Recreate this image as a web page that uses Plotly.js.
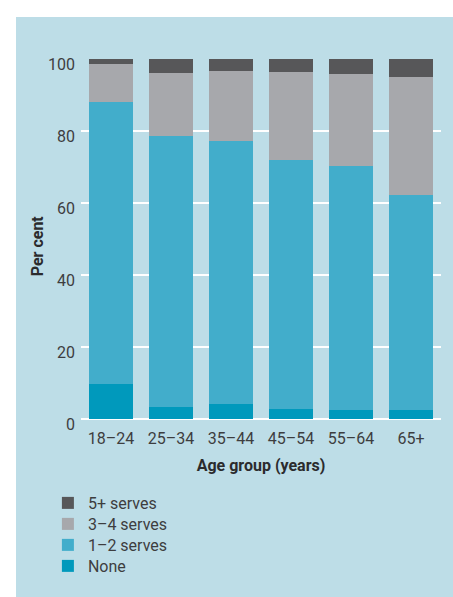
<!DOCTYPE html>
<html>
<head>
<meta charset="utf-8">
<script src="https://cdn.plot.ly/plotly-3.0.1.min.js"></script>
<style>
  html, body { margin: 0; padding: 0; background: #ffffff; }
  #chart { position: absolute; left: 16px; top: 17px; width: 437px; height: 580px; }
</style>
</head>
<body>
<div id="chart"></div>
<script>
// Age groups along the x axis
const ageGroups = ['18–24', '25–34', '35–44', '45–54', '55–64', '65+'];

// Share of each age group (per cent) by serves per day
const noneServes = [9.7, 3.3, 4.2, 2.7, 2.4, 2.4];
const oneToTwo   = [78.4, 75.3, 73.0, 69.3, 67.9, 59.8];
const threeToFour = [10.6, 17.6, 19.5, 24.4, 25.6, 32.8];
const fivePlus   = [1.3, 3.8, 3.3, 3.6, 4.1, 5.0];

const yTicks = [0, 20, 40, 60, 80, 100];

const textColor = '#3d3d3f';
const titleColor = '#2b2b2d';
const fontFamily = 'Roboto, "Liberation Sans", sans-serif';

// One legend per series so the key rows sit on an even 21px pitch
const series = [
  { name: 'None',       y: noneServes,  color: '#0099bc', legend: 'legend4' },
  { name: '1–2 serves', y: oneToTwo,    color: '#42adcb', legend: 'legend3' },
  { name: '3–4 serves', y: threeToFour, color: '#a7a8ac', legend: 'legend2' },
  { name: '5+ serves',  y: fivePlus,    color: '#575759', legend: 'legend' }
];

const traces = series.map(s => ({
  type: 'bar',
  name: s.name,
  x: ageGroups,
  y: s.y,
  legend: s.legend,
  marker: { color: s.color, line: { width: 0 } },
  hoverinfo: 'skip'
}));

function keyBox(y) {
  return {
    xref: 'container',
    yref: 'container',
    x: 0.073,
    xanchor: 'left',
    y: y,
    yanchor: 'top',
    bgcolor: 'rgba(0,0,0,0)',
    font: { family: fontFamily, size: 16, color: textColor },
    itemclick: false
  };
}

const layout = {
  width: 437,
  height: 580,
  barmode: 'stack',
  bargap: 0.283,
  paper_bgcolor: '#bddde7',
  plot_bgcolor: '#bddde7',
  margin: { l: 65, r: 12, t: 42, b: 178, autoexpand: false },
  font: { family: fontFamily, color: textColor, size: 16 },
  showlegend: true,
  legend: keyBox(0.1914),
  legend2: keyBox(0.1552),
  legend3: keyBox(0.1190),
  legend4: keyBox(0.0828),
  xaxis: {
    type: 'category',
    automargin: false,
    showgrid: false,
    zeroline: false,
    showline: false,
    ticks: '',
    ticklabelstandoff: 8,
    tickfont: { family: fontFamily, size: 16, color: textColor },
    title: {
      text: '<b>Age group (years)</b>',
      font: { family: fontFamily, size: 16, color: titleColor },
      standoff: 12
    }
  },
  yaxis: {
    range: [0, 100],
    automargin: false,
    tickvals: yTicks,
    ticktext: yTicks.map(String),
    showgrid: true,
    gridcolor: '#ffffff',
    gridwidth: 2,
    zeroline: true,
    zerolinecolor: '#ffffff',
    zerolinewidth: 2,
    showline: false,
    ticks: '',
    ticklabelstandoff: 5,
    ticklabelshift: 5,
    tickfont: { family: fontFamily, size: 16, color: textColor }
  },
  // Vertical axis title, set beside the tick labels
  annotations: [{
    text: '<b>Per cent</b>',
    xref: 'paper',
    yref: 'paper',
    x: -0.122,
    y: 0.48,
    xanchor: 'center',
    yanchor: 'middle',
    textangle: -90,
    showarrow: false,
    font: { family: fontFamily, size: 16, color: titleColor }
  }]
};

Plotly.newPlot('chart', traces, layout, { displayModeBar: false, staticPlot: true });
</script>
</body>
</html>
